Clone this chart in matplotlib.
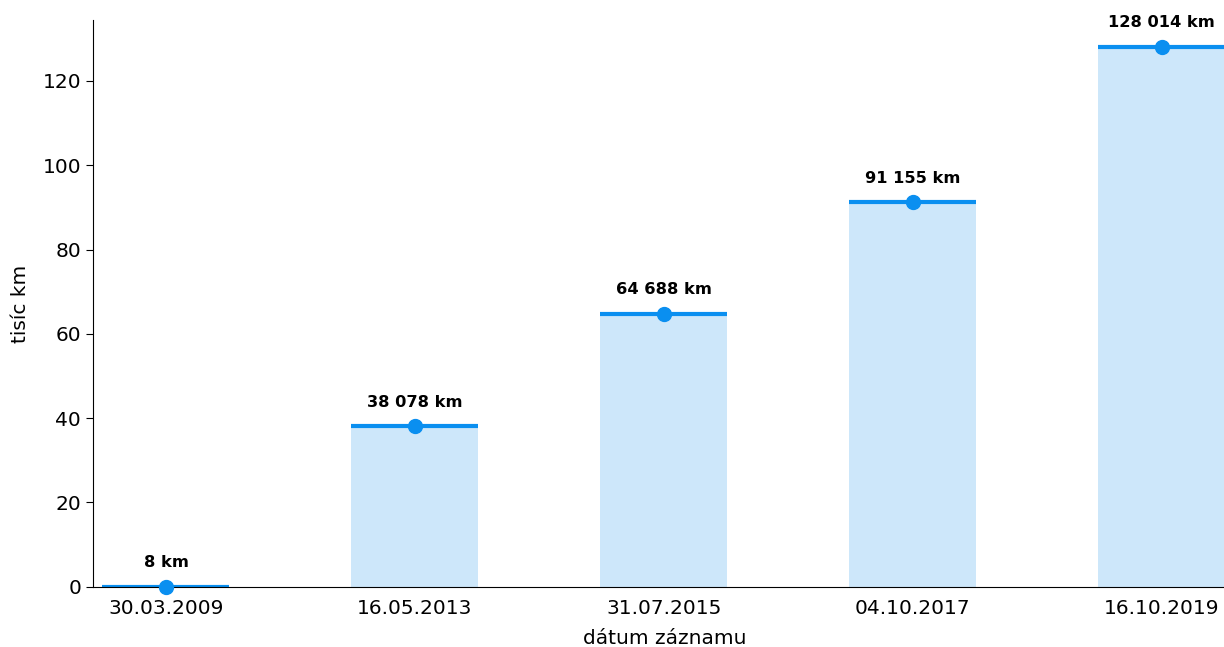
import matplotlib.pyplot as plt
import numpy as np

# data
dates = ['30.03.2009', '16.05.2013', '31.07.2015', '04.10.2017', '16.10.2019']
km = [8, 38078, 64688, 91155, 128014]

bar_color = '#cde7fa'
line_color = '#0a8ff0'

values = np.array(km) / 1000
x = np.arange(len(dates))
width = 0.51

fig = plt.figure(figsize=(12.24, 6.47), dpi=100)
# axes run slightly past the right edge of the figure, like the original
ax = fig.add_axes([0.076, 0.093, 0.934, 0.876])

ax.bar(x, values, width=width, color=bar_color, zorder=1)
ax.hlines(values, x - width / 2, x + width / 2, color=line_color, linewidth=3, zorder=2)
ax.plot(x, values, 'o', color=line_color, markersize=10, zorder=4, clip_on=False)

for xi, v, k in zip(x, values, km):
    label = f'{k:,} km'.replace(',', ' ')
    ax.annotate(label, (xi, v), xytext=(0, 12), textcoords='offset points',
                ha='center', va='bottom', fontsize=11.7, fontweight='bold')

ax.set_xticks(x)
ax.set_xticklabels(dates)
ax.set_xlim(-0.293, 4.30)
ax.set_ylim(0, max(values) * 1.05)
ax.tick_params(labelsize=14.5)
ax.set_xlabel('dátum záznamu', fontsize=14.5, labelpad=7.5)
ax.set_ylabel('tisíc km', fontsize=14.5, labelpad=9)

ax.spines['top'].set_visible(False)
ax.spines['right'].set_visible(False)
ax.tick_params(axis='x', length=0, pad=9)
ax.tick_params(axis='y', length=5)

plt.savefig('out.png')
